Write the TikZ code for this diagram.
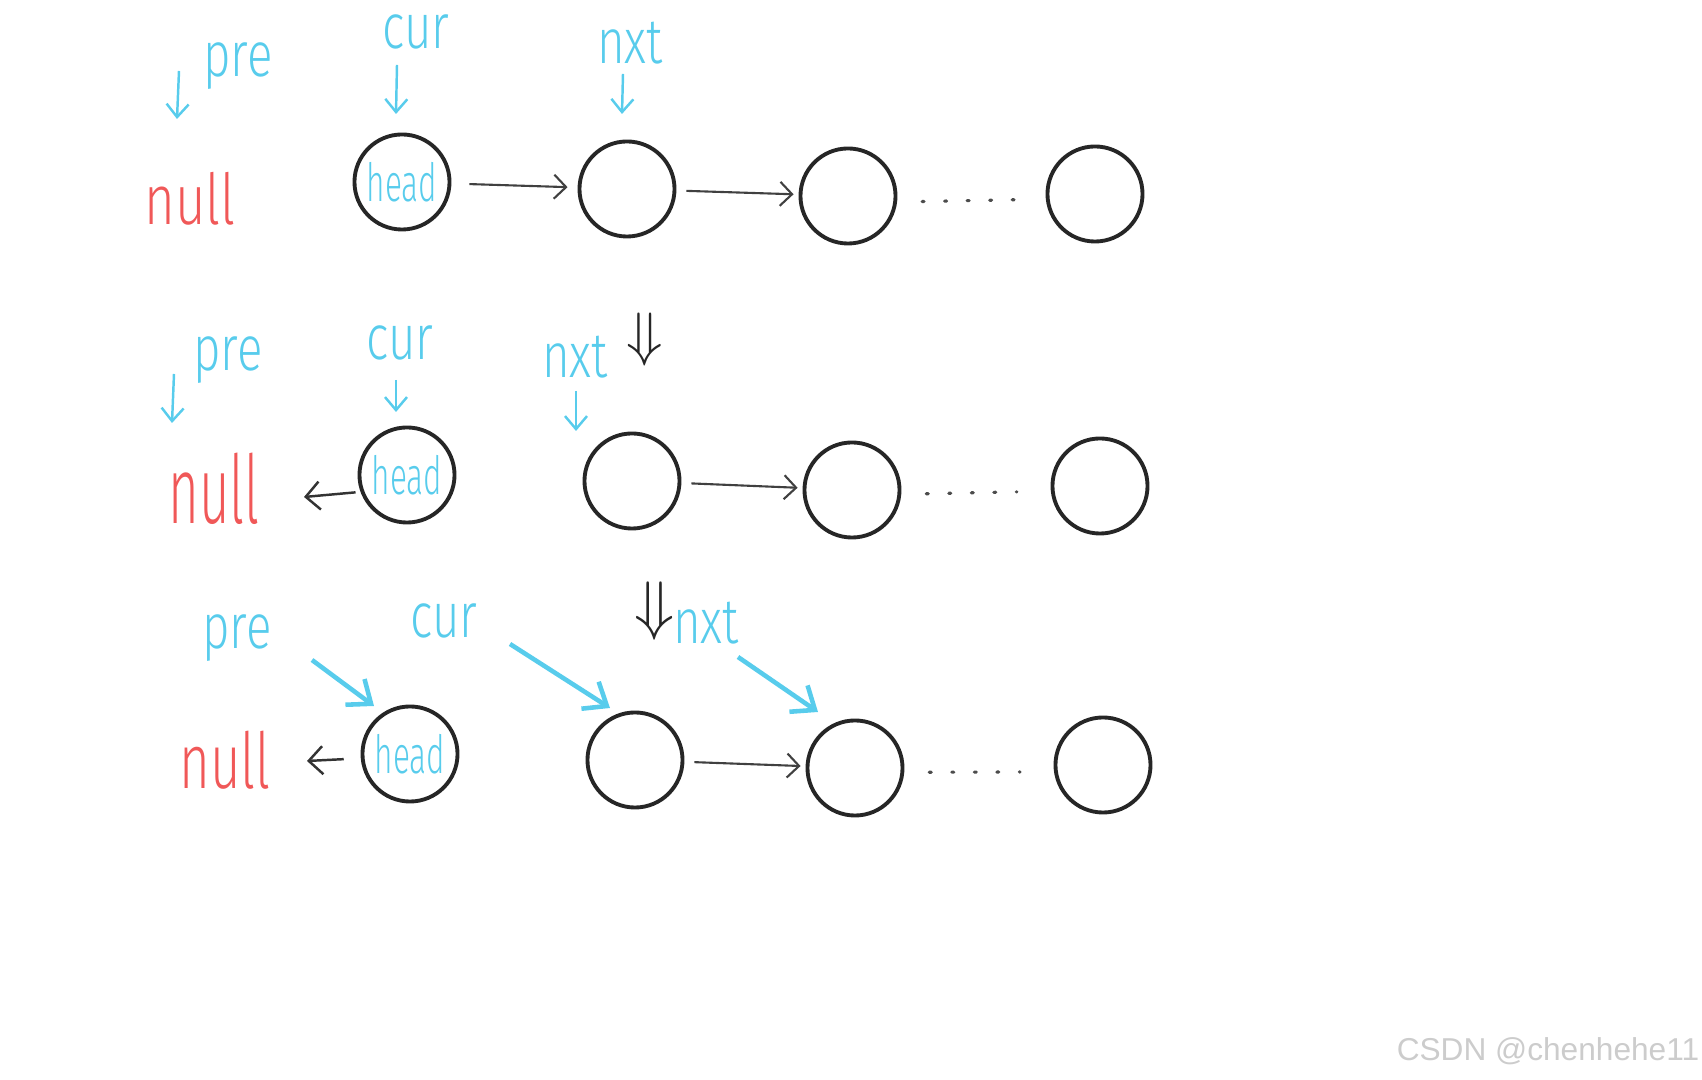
\documentclass[tikz,border=0pt]{standalone}
\usepackage{fontspec}
\usepackage{xcolor}
\usepackage{tikz}
\usetikzlibrary{arrows.meta}
\newfontfamily\handfont[FakeStretch=0.75,UprightFont={* Light}]{Fira Sans}
\newfontfamily\headfont[FakeStretch=0.6,UprightFont={* Light}]{Fira Sans}
\newfontfamily\markfont{Liberation Sans}
\definecolor{penblue}{RGB}{88,204,236}
\definecolor{penred}{RGB}{240,88,88}

\begin{document}
\begin{tikzpicture}[
    x=0.01cm, y=-0.01cm,
    listnode/.style={draw=black!85, line width=1.1pt, circle, minimum size=0.95cm, inner sep=0pt},
    link/.style={-{Straight Barb[length=1.2mm,width=2.4mm]}, draw=black!75, line width=0.6pt, shorten <=0.1cm, shorten >=0.05cm},
    back/.style={-{Straight Barb[length=1.4mm,width=2.8mm]}, draw=black!80, line width=0.7pt},
    etc/.style={draw=black!70, line width=0.9pt, line cap=round, dash pattern=on 0.02cm off 0.205cm, shorten <=0.25cm, shorten >=0.34cm},
    ptr/.style={-{Straight Barb[length=1.3mm,width=2.2mm]}, draw=penblue, line width=0.7pt},
    bigptr/.style={-{Straight Barb[length=2mm,width=3.2mm]}, draw=penblue, line width=1.3pt},
    tag/.style={text=penblue, font=\handfont\fontsize{18}{18}\selectfont, inner sep=0pt},
    nulltag/.style={text=penred, font=\handfont\fontsize{20}{20}\selectfont, inner sep=0pt},
    headtag/.style={text=penblue, font=\headfont\fontsize{15}{15}\selectfont},
    turn/.style={text=black!85, scale=1.7, inner sep=0pt}
]
\useasboundingbox (0,0) rectangle (1702,1080);

\node[tag] (pre1) at (238,66) {pre};
\node[tag] (cur1) at (416,32) {cur};
\node[tag] (nxt1) at (630,43) {nxt};
\node[nulltag] (null1) at (190,199) {null};
\node[listnode, headtag] (head1) at (402,182) {head};
\node[listnode] (sec1) at (627,189) {};
\node[listnode] (third1) at (848,196) {};
\node[listnode] (last1) at (1095,194) {};

\node[turn] (turn2) at (645,340) {$\Downarrow$};
\node[tag] (pre2) at (228,360) {pre};
\node[tag] (cur2) at (400,343) {cur};
\node[tag] (nxt2) at (575,357) {nxt};
\node[nulltag, yscale=1.35] (null2) at (214,489) {null};
\node[listnode, headtag] (head2) at (407,475) {head};
\node[listnode] (sec2) at (632,481) {};
\node[listnode] (third2) at (852,490) {};
\node[listnode] (last2) at (1100,486) {};

\node[turn, scale=1.1] (turn3) at (655,611) {$\Downarrow$};
\node[tag] (pre3) at (237,638) {pre};
\node[tag] (cur3) at (444,621) {cur};
\node[tag] (nxt3) at (706,623) {nxt};
\node[nulltag, yscale=1.1] (null3) at (225,760) {null};
\node[listnode, headtag] (head3) at (410,754) {head};
\node[listnode] (sec3) at (635,760) {};
\node[listnode] (third3) at (855,768) {};
\node[listnode] (last3) at (1103,765) {};

\coordinate (pre1s) at (179,71);  \coordinate (pre1e) at (177,119);
\coordinate (cur1s) at (397,65);  \coordinate (cur1e) at (396,114);
\coordinate (nxt1s) at (623,74);  \coordinate (nxt1e) at (622,114);
\coordinate (pre2s) at (174,374); \coordinate (pre2e) at (172,423);
\coordinate (cur2s) at (396,380); \coordinate (cur2e) at (396,412);
\coordinate (nxt2s) at (576,391); \coordinate (nxt2e) at (576,431);
\coordinate (pre3s) at (312,660); \coordinate (pre3e) at (374,706);
\coordinate (cur3s) at (510,644); \coordinate (cur3e) at (610,708);
\coordinate (nxt3s) at (738,657); \coordinate (nxt3e) at (818,712);
\coordinate (null2e) at (304,497);
\coordinate (null3e) at (307,761);

\draw[ptr] (pre1s) -- (pre1e);
\draw[ptr] (cur1s) -- (cur1e);
\draw[ptr] (nxt1s) -- (nxt1e);
\draw[link, shorten <=0.18cm, shorten >=0.1cm] (head1) -- (sec1);
\draw[link] (sec1) -- (third1);
\draw[etc, shorten >=0.31cm] (third1.-7) -- (last1.186);

\draw[ptr] (pre2s) -- (pre2e);
\draw[ptr] (cur2s) -- (cur2e);
\draw[ptr] (nxt2s) -- (nxt2e);
\draw[back, shorten <=0.05cm] (head2.200) -- (null2e);
\draw[link] (sec2) -- (third2);
\draw[etc] (third2.-5) -- (last2.186);

\draw[bigptr] (pre3s) -- (pre3e);
\draw[bigptr] (cur3s) -- (cur3e);
\draw[bigptr] (nxt3s) -- (nxt3e);
\draw[back, shorten <=0.17cm] (head3.185) -- (null3e);
\draw[link] (sec3) -- (third3);
\draw[etc] (third3.-5) -- (last3.188);

\node[font=\markfont\fontsize{9}{9}\selectfont, text=black!20] (mark) at (1548,1051) {CSDN @chenhehe11};
\end{tikzpicture}
\end{document}
